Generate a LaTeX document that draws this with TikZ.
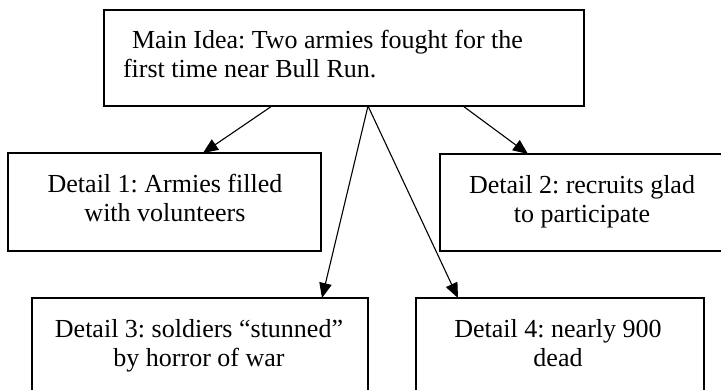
\documentclass[tikz,border=0pt]{standalone}
\usepackage{fontspec}
\setmainfont{Liberation Serif}
\usetikzlibrary{arrows.meta}
\frenchspacing
\tikzset{
  boxst/.style={draw=black, line width=1.2pt, rectangle, anchor=north west, inner sep=0pt, outer sep=0pt},
  txt/.style={inner sep=0pt, outer sep=0pt, font=\fontsize{26pt}{29pt}\selectfont},
  arr/.style={draw=black, line width=1.1pt, -{Triangle[length=15pt,width=12.5pt]}}
}
\begin{document}
\begin{tikzpicture}[x=1pt,y=-1pt]
\clip (0,0) rectangle (721,389);
\fill[white] (0,0) rectangle (721,389);
% boxes
\node[boxst, minimum width=480pt, minimum height=96pt] (main) at (104,10) {};
\node[boxst, minimum width=313pt, minimum height=98pt] (d1) at (8,153) {};
\node[boxst, minimum width=284pt, minimum height=97pt] (d2) at (440,154) {};
\node[boxst, minimum width=336pt, minimum height=110pt] (d3) at (32,298) {};
\node[boxst, minimum width=288pt, minimum height=110pt] (d4) at (416,298) {};
% texts
\node[txt, anchor=base west] (tmain) at (123,48) {\parbox[t]{460pt}{\raggedright\hspace*{9pt}Main Idea: Two armies fought for the\\first time near Bull Run.}};
\node[txt, anchor=base] (t1) at (165,192) {\parbox[t]{300pt}{\centering Detail 1: Armies filled\\with volunteers}};
\node[txt, anchor=base] (t2) at (582,193) {\parbox[t]{300pt}{\centering Detail 2: recruits glad\\to participate}};
\node[txt, anchor=base] (t3) at (199,337) {\parbox[t]{330pt}{\centering Detail 3: soldiers “stunned”\\by horror of war}};
\node[txt, anchor=base] (t4) at (558,337) {\parbox[t]{300pt}{\centering Detail 4: nearly 900\\dead}};
% connectors
\draw[arr] ([xshift=168pt]main.south west) -- ([xshift=195pt]d1.north west);
\draw[arr] ([xshift=359pt]main.south west) -- ([xshift=88pt]d2.north west);
\draw[arr] ([xshift=264pt]main.south west) -- ([xshift=290pt]d3.north west);
\draw[arr] ([xshift=264pt]main.south west) -- ([xshift=42pt]d4.north west);
\end{tikzpicture}
\end{document}
